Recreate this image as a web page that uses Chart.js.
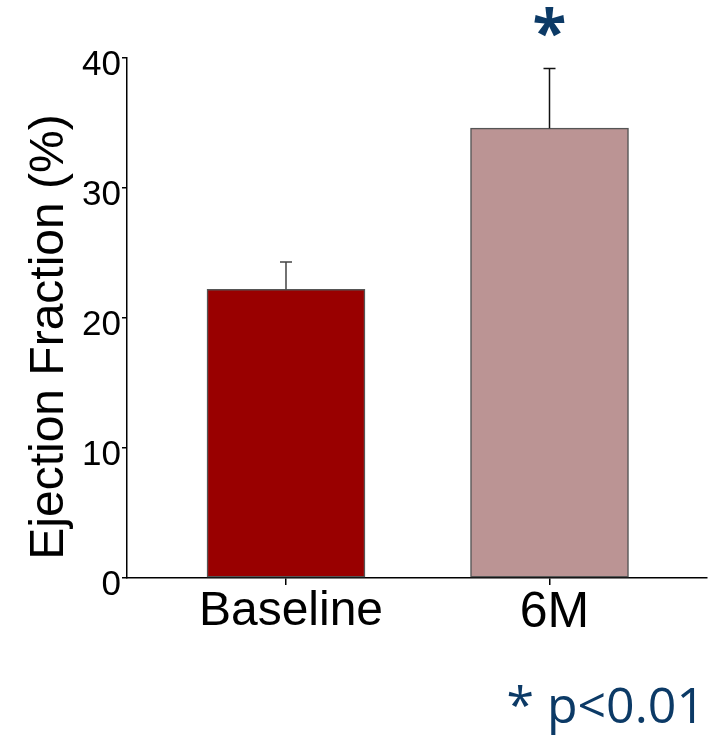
<!DOCTYPE html>
<html>
<head>
<meta charset="utf-8">
<script src="https://cdn.jsdelivr.net/npm/chart.js@4/dist/chart.umd.min.js"></script>
<style>
html,body{margin:0;padding:0;background:#fff;}
#wrap{width:712px;height:739px;position:relative;}
</style>
</head>
<body>
<div id="wrap"><canvas id="c" width="712" height="739"></canvas></div>
<script>
const categories = ['Baseline', '6M'];
const means = [22.2, 34.6];
const errors = [2.1, 4.6];
const yTicks = [0, 10, 20, 30, 40];
const barColors = ['#990000', '#bb9494'];
const errColors = ['#444444', '#111111'];
const yTitle = 'Ejection Fraction (%)';
const sigMark = '*';
const sigNote = '* p<0.01';

const extras = {
  id: 'extras',
  afterDatasetsDraw(chart) {
    const ctx = chart.ctx, xs = chart.scales.x, ys = chart.scales.y;
    ctx.save();
    ctx.lineWidth = 1.5;
    means.forEach((m, i) => {
      const xp = xs.getPixelForValue(i);
      const yb = ys.getPixelForValue(m);
      const yt = ys.getPixelForValue(m + errors[i]);
      ctx.strokeStyle = errColors[i];
      ctx.beginPath();
      ctx.moveTo(xp, yb);
      ctx.lineTo(xp, yt);
      ctx.moveTo(xp - 6, yt);
      ctx.lineTo(xp + 6, yt);
      ctx.stroke();
    });
    ctx.restore();
  },
  afterDraw(chart) {
    const ctx = chart.ctx, xs = chart.scales.x, ys = chart.scales.y, ca = chart.chartArea;
    ctx.save();
    ctx.translate(50, (ca.top + ca.bottom) / 2 + 19);
    ctx.rotate(-Math.PI / 2);
    ctx.fillStyle = '#000';
    ctx.font = '48px "Liberation Sans", Arial, sans-serif';
    ctx.textAlign = 'center';
    ctx.textBaseline = 'middle';
    ctx.fillText(yTitle, 0, 0);
    ctx.restore();
    ctx.save();
    ctx.fillStyle = '#0c3a66';
    ctx.font = 'bold 62px "Open Sans", sans-serif';
    ctx.textAlign = 'center';
    ctx.textBaseline = 'alphabetic';
    const xp = xs.getPixelForValue(1);
    const yt = ys.getPixelForValue(means[1] + errors[1]);
    ctx.fillText(sigMark, xp, yt - 13);
    ctx.font = '50px "Open Sans", sans-serif';
    ctx.textAlign = 'right';
    ctx.fillText(sigNote, 705, 723);
    ctx.restore();
  }
};

new Chart(document.getElementById('c'), {
  type: 'bar',
  data: {
    datasets: [{
      data: categories.map((c, i) => ({ x: i, y: means[i] })),
      backgroundColor: barColors,
      borderColor: '#555555',
      borderWidth: 1.5,
      borderSkipped: false,
      barThickness: 158
    }]
  },
  options: {
    responsive: false,
    animation: false,
    events: [],
    layout: { padding: { top: 58, right: 5, left: 0, bottom: 0 } },
    plugins: { legend: { display: false }, tooltip: { enabled: false } },
    scales: {
      x: {
        type: 'linear',
        offset: false,
        min: -0.6034,
        max: 1.5977,
        afterBuildTicks: s => { s.ticks = categories.map((c, i) => ({ value: i })); },
        afterFit: s => { s.height = 161; },
        ticks: {
          callback: v => categories[v],
          color: '#000',
          padding: -2,
          labelOffset: 5,
          maxRotation: 0,
          autoSkip: false,
          font: ctx => ({ family: '"Liberation Sans", Arial, sans-serif', size: ctx.index === 1 ? 50 : 48 })
        },
        grid: { offset: false, drawOnChartArea: false, drawTicks: true, tickLength: 7, color: '#000', lineWidth: 1.5 },
        border: { display: true, color: '#000', width: 1.5 }
      },
      y: {
        min: 0,
        max: 40,
        afterBuildTicks: s => { s.ticks = yTicks.map(v => ({ value: v })); },
        afterFit: s => { s.width = 127; },
        ticks: {
          color: '#000',
          padding: 1,
          labelOffset: 7,
          font: { family: '"Liberation Sans", Arial, sans-serif', size: 35 }
        },
        grid: { drawOnChartArea: false, drawTicks: true, tickLength: 5, color: '#000', lineWidth: 1.5 },
        border: { display: true, color: '#000', width: 1.5 }
      }
    }
  },
  plugins: [extras]
});
</script>
</body>
</html>
